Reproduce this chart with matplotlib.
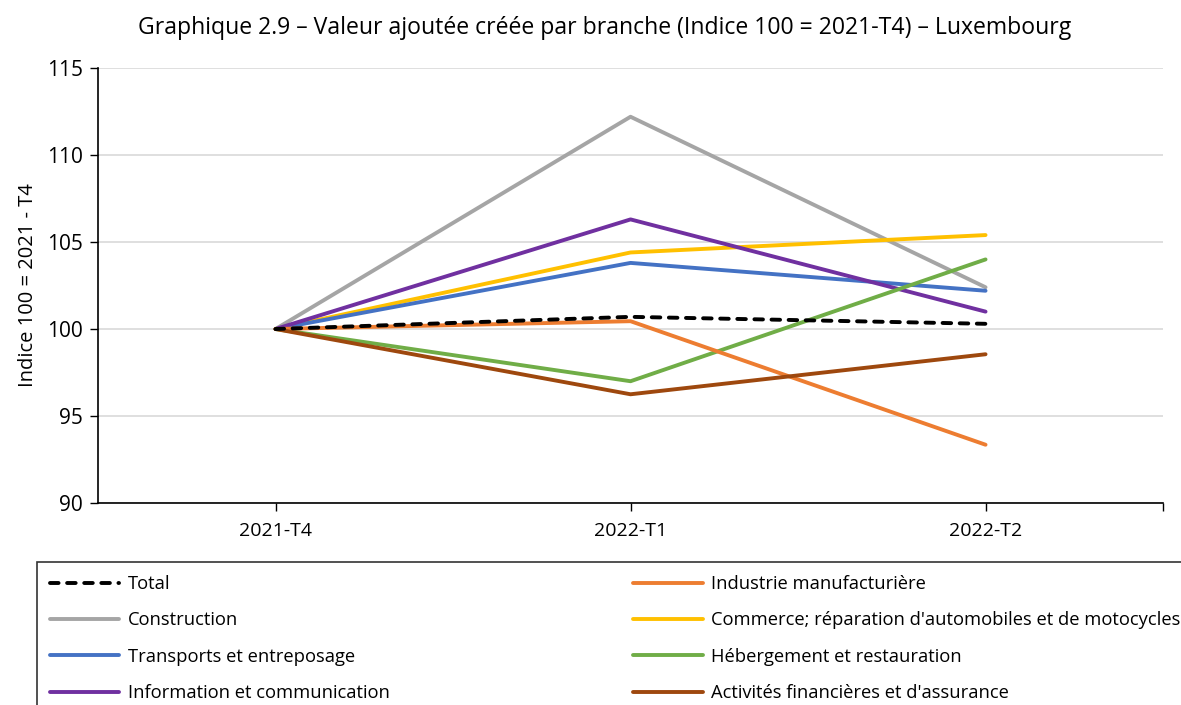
import matplotlib
matplotlib.use("Agg")
import matplotlib.pyplot as plt

plt.rcParams["font.family"] = ["Open Sans", "DejaVu Sans"]

periods = ["2021-T4", "2022-T1", "2022-T2"]

total = [100.0, 100.7, 100.3]
industrie = [100.0, 100.45, 93.35]
construction = [100.0, 112.2, 102.4]
commerce = [100.0, 104.4, 105.4]
transports = [100.0, 103.8, 102.2]
hebergement = [100.0, 97.0, 104.0]
information = [100.0, 106.3, 101.0]
financieres = [100.0, 96.25, 98.55]

# legend order (column-first fill in matplotlib)
series = [
    ("Total", total, "black", "dash"),
    ("Construction", construction, "#A5A5A5", "-"),
    ("Transports et entreposage", transports, "#4472C4", "-"),
    ("Information et communication", information, "#7030A0", "-"),
    ("Industrie manufacturière", industrie, "#ED7D31", "-"),
    ("Commerce; réparation d'automobiles et de motocycles", commerce, "#FFC000", "-"),
    ("Hébergement et restauration", hebergement, "#70AD47", "-"),
    ("Activités financières et d'assurance", financieres, "#9E480E", "-"),
]
draw_order = [1, 5, 2, 3, 6, 4, 7, 0]

fig = plt.figure(figsize=(11.81, 7.05), dpi=100)
ax = fig.add_axes([0.083, 0.2865, 0.9018, 0.617])

x = list(range(len(periods)))
handles = {}
for i in draw_order:
    label, vals, color, ls = series[i]
    if ls == "dash":
        line, = ax.plot(x, vals, color=color, linewidth=2.8, linestyle=(0, (2.2, 2.2)),
                        dash_capstyle="round", label=label, zorder=5)
    else:
        line, = ax.plot(x, vals, color=color, linewidth=2.8, solid_capstyle="round",
                        label=label, zorder=3)
    handles[i] = line

ax.set_xlim(-0.5, 2.5)
ax.set_ylim(90, 115)
ax.set_yticks(range(90, 116, 5))
ax.set_xticks(x)
ax.set_xticklabels(periods, fontsize=14)
ax.set_xticks([2.5], minor=True)
ax.tick_params(axis="x", which="both", length=6, width=1, pad=8)
ax.tick_params(axis="y", labelsize=15, length=6, width=1, pad=5)
ax.grid(True, axis="y", color="#D9D9D9", linewidth=1.2)
ax.set_axisbelow(True)
for s in ["top", "right"]:
    ax.spines[s].set_visible(False)
for s in ["left", "bottom"]:
    ax.spines[s].set_linewidth(1.2)
ax.set_ylabel("Indice 100 = 2021 - T4", fontsize=14.5, labelpad=6)

fig.text(0.512, 0.96, "Graphique 2.9 \u2013 Valeur ajoutée créée par branche (Indice 100 = 2021-T4) \u2013 Luxembourg",
         ha="center", va="center", fontsize=16.6)

leg = fig.legend([handles[i] for i in range(len(series))], [s[0] for s in series],
                 ncol=2, loc="upper left", bbox_to_anchor=(0.031, 0.203),
                 fontsize=13.2, handlelength=3.8, handletextpad=0.45,
                 labelspacing=1.0, columnspacing=13.3, borderaxespad=0,
                 borderpad=0.72, frameon=True, fancybox=False)
leg.get_frame().set_edgecolor("black")
leg.get_frame().set_linewidth(1.2)

fig.savefig("out.png", dpi=100)
